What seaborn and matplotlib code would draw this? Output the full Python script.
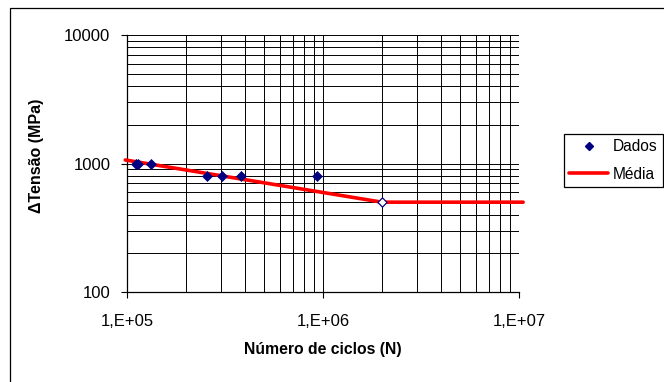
import matplotlib
matplotlib.use("Agg")
import matplotlib.pyplot as plt
import matplotlib.ticker as mticker
from matplotlib.patches import Rectangle
from matplotlib.lines import Line2D
import seaborn as sns
import pandas as pd
import numpy as np

# Data
ciclos = [111000, 114000, 132000, 256000, 306000, 382000, 935000]
tensao = [1000, 1000, 1000, 800, 800, 800, 800]
ciclos_aberto = [2000000]
tensao_aberto = [500]
media_ciclos = [98000, 2000000, 10500000]
media_tensao = [1065, 500, 500]
x_ticks = [1e5, 1e6, 1e7]
x_tick_labels = ["1,E+05", "1,E+06", "1,E+07"]
y_ticks = [100, 1000, 10000]
y_tick_labels = ["100", "1000", "10000"]

sns.set_theme(style="white")
plt.rcParams['font.family'] = ['Liberation Sans', 'DejaVu Sans']

fig = plt.figure(figsize=(6.64, 3.82), dpi=100)
ax = fig.add_axes([127/664, 1-292/382, (519-127)/664, (292-35)/382])

df_pts = pd.DataFrame({"N": ciclos, "S": tensao})
df_open = pd.DataFrame({"N": ciclos_aberto, "S": tensao_aberto})
df_line = pd.DataFrame({"N": media_ciclos, "S": media_tensao})

ax.set_xscale("log")
ax.set_yscale("log")

sns.lineplot(data=df_line, x="N", y="S", ax=ax, color="#FF0000", lw=2.6,
             zorder=3, clip_on=False, sort=False, legend=False)
sns.scatterplot(data=df_pts, x="N", y="S", ax=ax, marker="D", s=26,
                color="#000080", edgecolor="#000080", linewidth=0.5,
                zorder=4, clip_on=False, legend=False)
sns.scatterplot(data=df_open, x="N", y="S", ax=ax, marker="D", s=22,
                facecolor="white", edgecolor="#000080", linewidth=0.9,
                zorder=5, legend=False)

ax.set_xlim(1e5, 1e7)
ax.set_ylim(100, 10000)

ax.set_xticks(x_ticks)
ax.set_xticklabels(x_tick_labels)
ax.set_yticks(y_ticks)
ax.set_yticklabels(y_tick_labels)
ax.xaxis.set_minor_locator(mticker.LogLocator(base=10, subs=np.arange(2, 10)))
ax.yaxis.set_minor_locator(mticker.LogLocator(base=10, subs=np.arange(2, 10)))
ax.xaxis.set_minor_formatter(mticker.NullFormatter())
ax.yaxis.set_minor_formatter(mticker.NullFormatter())

ax.grid(True, which="both", color="black", lw=0.7)
ax.set_axisbelow(True)
for side in ["left", "bottom", "right", "top"]:
    ax.spines[side].set_color("black")
    ax.spines[side].set_linewidth(0.9)
ax.spines["right"].set_visible(False)
ax.spines["top"].set_visible(False)

ax.tick_params(axis="both", which="major", direction="out", length=4.5,
               width=0.8, color="black", labelsize=12, labelcolor="black",
               bottom=True, left=True)
ax.tick_params(axis="y", which="major", pad=7.5)
ax.tick_params(axis="x", which="major", pad=11)
ax.tick_params(axis="both", which="minor", length=0)

ax.set_xlabel("Número de ciclos (N)", fontsize=11.3, fontweight="bold",
              labelpad=10, color="black")
ax.set_ylabel("ΔTensão (MPa)", fontsize=11.5, fontweight="bold",
              color="black")
ax.yaxis.set_label_coords(44/664, 1-156/382, transform=fig.transFigure)

# Legend
h_dados = Line2D([], [], marker="D", ls="none", color="#000080",
                 markersize=4.5)
h_media = Line2D([], [], color="#FF0000", lw=2.6)
leg = fig.legend([h_dados, h_media], ["Dados", "Média"],
                 loc="upper left", bbox_to_anchor=(564/664, 1-134/382),
                 bbox_transform=fig.transFigure, fontsize=11.2, frameon=True,
                 fancybox=False, edgecolor="black", framealpha=1,
                 handlelength=2.5, handletextpad=0.3, borderpad=0.35,
                 labelspacing=0.8, borderaxespad=0)
leg.get_frame().set_linewidth(0.9)
for t in leg.get_texts():
    t.set_color("black")

# Outer chart frame
fig.patches.append(Rectangle((10/664, -0.05), 1.0, 1-7.5/382 + 0.05,
                             transform=fig.transFigure, fill=False,
                             edgecolor="black", lw=0.9, zorder=0))

fig.savefig("out.png", dpi=100)
